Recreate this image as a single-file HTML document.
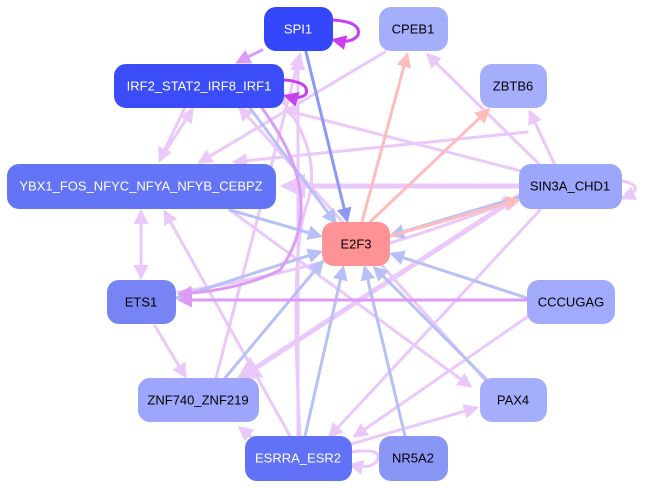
<!DOCTYPE html>
<html><head><style>
html,body{margin:0;padding:0;background:#fff;}
svg{display:block;}
text{font-family:"Liberation Sans",sans-serif;font-size:13px;text-anchor:middle;dominant-baseline:central;}
</style></head><body>
<svg width="653" height="489" viewBox="0 0 653 489" xmlns="http://www.w3.org/2000/svg">
<defs>
<marker id="ml" markerWidth="5" markerHeight="5" refX="4" refY="2.5" orient="auto" markerUnits="strokeWidth"><path d="M0,0L5,2.5L0,5z" fill="#ebc8fa"/></marker>
<marker id="mb" markerWidth="5" markerHeight="5" refX="4" refY="2.5" orient="auto" markerUnits="strokeWidth"><path d="M0,0L5,2.5L0,5z" fill="#b8c0f8"/></marker>
<marker id="mdb" markerWidth="5" markerHeight="5" refX="4" refY="2.5" orient="auto" markerUnits="strokeWidth"><path d="M0,0L5,2.5L0,5z" fill="#8c98f4"/></marker>
<marker id="ms" markerWidth="5" markerHeight="5" refX="4" refY="2.5" orient="auto" markerUnits="strokeWidth"><path d="M0,0L5,2.5L0,5z" fill="#ffbcbc"/></marker>
<marker id="mp" markerWidth="5" markerHeight="5" refX="4" refY="2.5" orient="auto" markerUnits="strokeWidth"><path d="M0,0L5,2.5L0,5z" fill="#c840f0"/></marker>
<marker id="mm" markerWidth="5" markerHeight="5" refX="4" refY="2.5" orient="auto" markerUnits="strokeWidth"><path d="M0,0L5,2.5L0,5z" fill="#dc9cf6"/></marker>
</defs>
<g fill="none" stroke-linecap="round">
<!-- lavender edges -->
<g stroke="#ebc8fa" stroke-width="3" marker-end="url(#ml)">
<line x1="519" y1="186" x2="285" y2="186" stroke-width="5"/>
<line x1="519" y1="196" x2="240" y2="378" stroke-width="5"/>
<line x1="555" y1="165" x2="530" y2="112"/>
<line x1="540" y1="165" x2="428" y2="55"/>
<line x1="525" y1="172" x2="285" y2="110"/>
<line x1="540" y1="210" x2="330" y2="436"/>
<line x1="385" y1="52" x2="200" y2="162"/>
<line x1="527" y1="132" x2="235" y2="162"/>
<line x1="530" y1="315" x2="355" y2="436"/>
<line x1="485" y1="380" x2="240" y2="108"/>
<line x1="351" y1="444" x2="476" y2="408"/>
<line x1="298" y1="436" x2="298" y2="58"/>
<line x1="290" y1="436" x2="165" y2="212"/>
<line x1="255" y1="440" x2="240" y2="428"/>
<line x1="195" y1="86" x2="160" y2="160"/>
<line x1="160" y1="160" x2="192" y2="110"/>
<line x1="141" y1="212" x2="141" y2="277"/>
<line x1="141" y1="277" x2="141" y2="212"/>
<line x1="155" y1="326" x2="185" y2="376"/>
<line x1="216" y1="378" x2="300" y2="55"/>
<line x1="230" y1="210" x2="470" y2="386"/>
<path d="M178,292 Q330,270 515,200" stroke-width="3"/>
<path d="M351,452 Q380,448 378,458 Q375,470 351,465" />
<path d="M618,180 Q650,186 623,198"/>
</g>
<path d="M285,104 Q325,160 305,210 Q290,260 300,436" stroke="#ebc8fa" stroke-width="3" marker-start="url(#ml)"/>
<!-- blue edges -->
<g stroke="#b8c0f8" stroke-width="3" marker-end="url(#mb)">
<line x1="250" y1="108" x2="335" y2="222"/>
<line x1="230" y1="210" x2="320" y2="236"/>
<line x1="176" y1="298" x2="320" y2="252"/>
<line x1="225" y1="378" x2="322" y2="262"/>
<line x1="305" y1="436" x2="343" y2="268"/>
<line x1="405" y1="436" x2="365" y2="268"/>
<line x1="487" y1="380" x2="375" y2="268"/>
<line x1="527" y1="298" x2="392" y2="254"/>
<line x1="519" y1="197" x2="392" y2="235"/>
</g>
<line x1="306" y1="52" x2="347" y2="220" stroke="#8c98f4" stroke-width="3" marker-end="url(#mdb)"/>
<!-- salmon -->
<g stroke="#ffbcbc" stroke-width="3" marker-end="url(#ms)">
<line x1="362" y1="222" x2="407" y2="55"/>
<line x1="370" y1="222" x2="488" y2="110"/>
<line x1="390" y1="236" x2="518" y2="200"/>
</g>
<!-- purple -->
<g stroke="#dc9cf6" stroke-width="3" marker-end="url(#mm)">
<line x1="527" y1="300" x2="180" y2="300"/>
<path d="M262,108 Q330,200 280,270 Q240,290 180,294"/>
<line x1="262" y1="50" x2="238" y2="62"/>
</g>
<g stroke="#c840f0" stroke-width="3" marker-end="url(#mp)">
<path d="M333,20 Q362,22 358,35 Q352,44 334,40"/>
<path d="M284,80 Q310,82 306,94 Q300,100 286,96"/>
</g>
</g>
<!-- nodes -->
<g>
<rect x="264" y="7" width="69" height="44" rx="12" fill="#3547fb"/><text x="298" y="29" fill="#fff">SPI1</text>
<rect x="379" y="7" width="69" height="44" rx="12" fill="#a5aefb"/><text x="413" y="29">CPEB1</text>
<rect x="114" y="64" width="170" height="44" rx="12" fill="#3b4df8"/><text x="199" y="86" fill="#fff">IRF2_STAT2_IRF8_IRF1</text>
<rect x="480" y="64" width="67" height="44" rx="12" fill="#a5aefb"/><text x="513" y="86">ZBTB6</text>
<rect x="7" y="164" width="269" height="45" rx="12" fill="#6474f6"/><text x="141" y="186" fill="#fff">YBX1_FOS_NFYC_NFYA_NFYB_CEBPZ</text>
<rect x="519" y="164" width="103" height="45" rx="12" fill="#9ca6fa"/><text x="570" y="186">SIN3A_CHD1</text>
<rect x="322" y="222" width="68" height="44" rx="12" fill="#ff9294"/><text x="356" y="244">E2F3</text>
<rect x="107" y="280" width="69" height="44" rx="12" fill="#7884f4"/><text x="141" y="302">ETS1</text>
<rect x="527" y="280" width="88" height="44" rx="12" fill="#a2abfb"/><text x="571" y="302">CCCUGAG</text>
<rect x="138" y="378" width="121" height="44" rx="12" fill="#9da6fa"/><text x="198" y="400">ZNF740_ZNF219</text>
<rect x="480" y="378" width="67" height="44" rx="12" fill="#a5aefb"/><text x="513" y="400">PAX4</text>
<rect x="245" y="436" width="107" height="45" rx="12" fill="#6172f6"/><text x="298" y="458" fill="#fff">ESRRA_ESR2</text>
<rect x="379" y="436" width="69" height="45" rx="12" fill="#8a96f6"/><text x="413" y="458">NR5A2</text>
</g>
</svg>
</body></html>
